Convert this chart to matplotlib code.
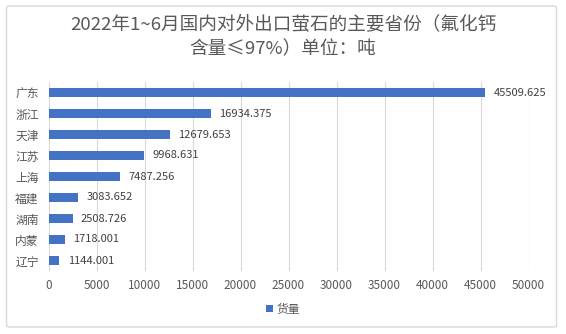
import matplotlib
matplotlib.use("Agg")
import matplotlib.pyplot as plt
from matplotlib.patches import FancyBboxPatch

plt.rcParams['font.family'] = ['Noto Sans CJK SC', 'DejaVu Sans']

provinces = ['广东', '浙江', '天津', '江苏', '上海', '福建', '湖南', '内蒙', '辽宁']
volumes = [45509.625, 16934.375, 12679.653, 9968.631, 7487.256, 3083.652, 2508.726, 1718.001, 1144.001]
x_ticks = list(range(0, 50001, 5000))
title = '2022年1~6月国内对外出口萤石的主要省份（氟化钙\n含量≤97%）单位：吨'
legend_label = '货量'

bar_color = '#4472C4'
text_color = '#595959'

fig = plt.figure(figsize=(5.66, 3.34), dpi=100)

# Chart frame, kept behind the axes
frame = FancyBboxPatch((6.5 / 566, 7 / 334), 550 / 566, 321 / 334,
                       boxstyle='round,pad=0,rounding_size=0.005',
                       transform=fig.transFigure, facecolor='none',
                       edgecolor='#D9D9D9', linewidth=1, zorder=-1)
fig.patches.append(frame)

ax = fig.add_axes([48.5 / 566, 1 - 271 / 334, 480 / 566, 189 / 334])
ax.set_facecolor('none')

y_pos = list(range(len(provinces)))
bars = ax.barh(y_pos, volumes, height=0.4, color=bar_color, label=legend_label, zorder=3)
ax.set_yticks(y_pos)
ax.set_yticklabels(provinces)
ax.set_ylim(len(provinces) - 0.5, -0.5)
ax.set_xlim(0, 50000)
ax.set_xticks(x_ticks)

# Value labels at the end of each bar
for bar, v in zip(bars, volumes):
    ax.annotate(f'{v:.3f}',
                xy=(bar.get_width(), bar.get_y() + bar.get_height() / 2),
                xytext=(6, 0), textcoords='offset points',
                va='center', ha='left', fontsize=8, color='#404040')

ax.grid(axis='x', color='#D9D9D9', linewidth=0.8, zorder=0)
for side in ['top', 'right', 'bottom', 'left']:
    ax.spines[side].set_visible(False)
ax.tick_params(axis='both', length=0, labelsize=8.5, colors=text_color)
ax.tick_params(axis='y', pad=7)
ax.tick_params(axis='x', pad=6)

fig.text(0.5, 1 - 37 / 334, title, ha='center', va='center', fontsize=13.4,
         color=text_color, linespacing=1.5)

fig.legend(loc='center', bbox_to_anchor=(0.5, 1 - 309 / 334), frameon=False,
           fontsize=8.5, labelcolor=text_color, handlelength=0.55, handleheight=0.55,
           handletextpad=0.3)

fig.savefig('out.png', dpi=100)
